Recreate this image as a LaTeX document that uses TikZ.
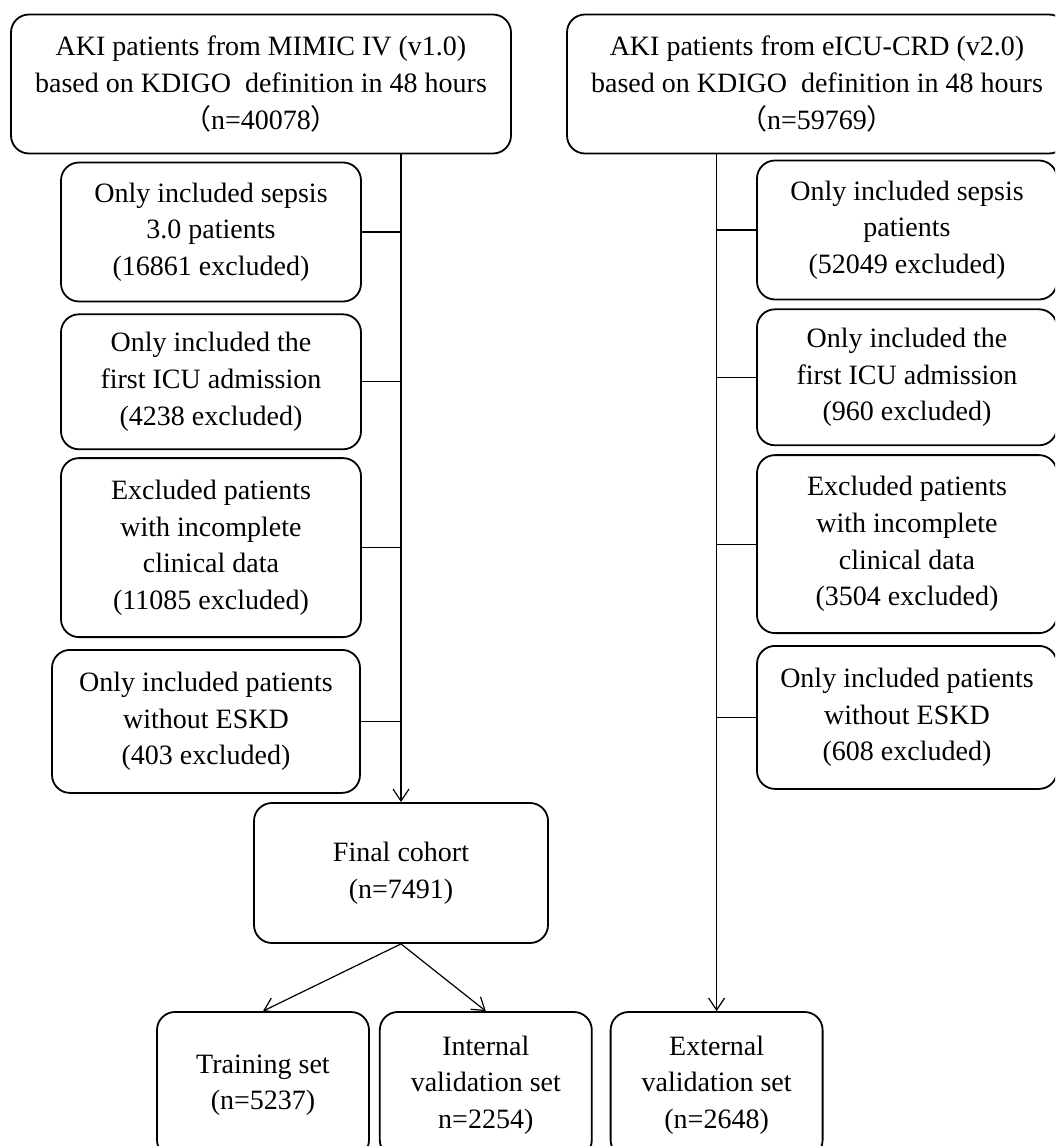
\documentclass[tikz,border=0pt]{standalone}
\usepackage{fontspec}
\setmainfont{Liberation Serif}
\newfontfamily\cjk{Noto Sans CJK SC}
\usetikzlibrary{arrows.meta,positioning}
\tikzset{
  box/.style={draw,line width=1.8pt,rounded corners=18pt,align=center,
    inner sep=0pt,font=\fontsize{28}{36.6}\selectfont},
  source/.style={box,minimum width=500pt,minimum height=139pt},
  filter/.style={box,minimum width=300pt},
  cohort/.style={box,minimum width=294pt,minimum height=140pt},
  subset/.style={box,minimum width=212pt,minimum height=146pt},
  link/.style={line width=1.2pt},
  arrow/.style={link,-{Straight Barb[length=12pt,width=16pt]}}
}

\begin{document}
\begin{tikzpicture}[x=1pt,y=-1pt,node distance=10pt]
\clip (0,0) rectangle (1055,1146);
% sources
\node[source] (mimic) at (261,84) {AKI patients from MIMIC IV (v1.0)\\
  based on KDIGO\ \ definition in 48 hours\\ {\cjk （}n=40078{\cjk ）}};
\node[source] (eicu) at (817,84) {AKI patients from eICU-CRD (v2.0)\\
  based on KDIGO\ \ definition in 48 hours\\ {\cjk （}n=59769{\cjk ）}};
% MIMIC exclusions
\node[filter,minimum height=139pt] (msep) at (211,232) {Only included sepsis\\ 3.0 patients\\ (16861 excluded)};
\node[filter,minimum height=135pt,below=11pt of msep] (micu) {Only included the\\ first ICU admission\\ (4238 excluded)};
\node[filter,minimum height=179pt,below=7pt of micu] (mdata) {Excluded patients\\ with incomplete\\ clinical data\\ (11085 excluded)};
\node[filter,minimum height=143pt,minimum width=308pt,below=11pt of mdata,xshift=-5pt] (meskd) {Only included patients\\ without ESKD\\ (403 excluded)};
% eICU exclusions
\node[filter,minimum height=139pt] (esep) at (907,230) {Only included sepsis\\ patients\\ (52049 excluded)};
\node[filter,minimum height=136pt,below=8pt of esep] (eicuadm) {Only included the\\ first ICU admission\\ (960 excluded)};
\node[filter,minimum height=178pt,below=8pt of eicuadm] (edata) {Excluded patients\\ with incomplete\\ clinical data\\ (3504 excluded)};
\node[filter,minimum height=143pt,below=11pt of edata] (eeskd) {Only included patients\\ without ESKD\\ (608 excluded)};
% cohorts
\node[cohort] (final) at (401,873) {Final cohort\\ (n=7491)};
\node[subset] (train) at (263,1085) {Training set\\ (n=5237)};
\node[subset,right=9pt of train] (intval) {Internal\\ validation set\\ n=2254)};
\node[subset,right=17pt of intval] (extval) {External\\ validation set\\ (n=2648)};
% connectors
\draw[arrow] (mimic.south -| final.north)--(final.north);
\draw[arrow] (eicu.south -| extval.north)--(extval.north);
\foreach \n in {msep,micu,mdata,meskd}
  \draw[link] (\n.east)--(\n.east -| final.north);
\foreach \n in {esep,eicuadm,edata,eeskd}
  \draw[link] (\n.west -| extval.north)--(\n.west);
\draw[arrow] (final.south)--(train.north);
\draw[arrow] (final.south)--(intval.north);
\end{tikzpicture}
\end{document}
